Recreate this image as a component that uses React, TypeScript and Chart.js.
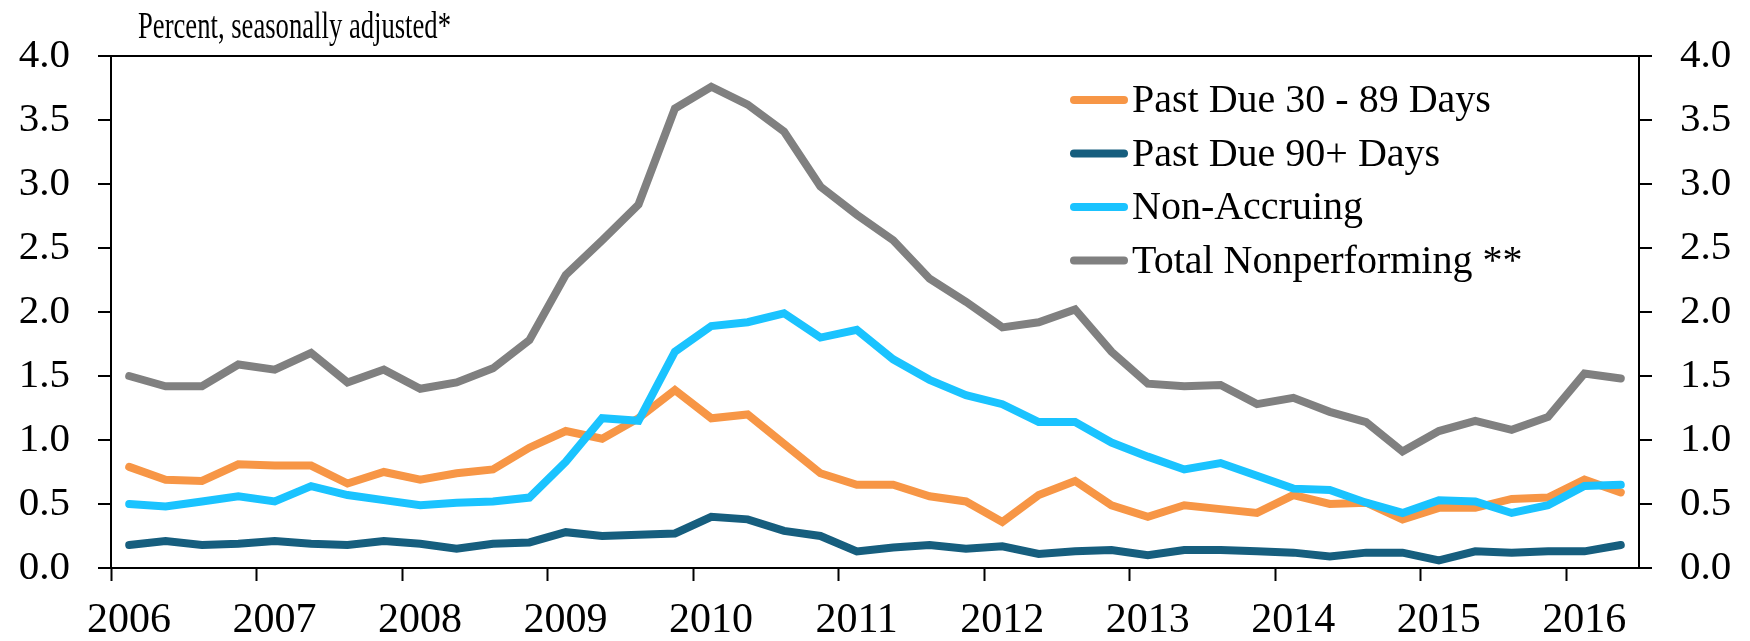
import React, { useEffect, useRef } from 'react';
import { Chart, registerables } from 'chart.js';

Chart.register(...registerables);

const quarters = [
  '2006Q1', '2006Q2', '2006Q3', '2006Q4',
  '2007Q1', '2007Q2', '2007Q3', '2007Q4',
  '2008Q1', '2008Q2', '2008Q3', '2008Q4',
  '2009Q1', '2009Q2', '2009Q3', '2009Q4',
  '2010Q1', '2010Q2', '2010Q3', '2010Q4',
  '2011Q1', '2011Q2', '2011Q3', '2011Q4',
  '2012Q1', '2012Q2', '2012Q3', '2012Q4',
  '2013Q1', '2013Q2', '2013Q3', '2013Q4',
  '2014Q1', '2014Q2', '2014Q3', '2014Q4',
  '2015Q1', '2015Q2', '2015Q3', '2015Q4',
  '2016Q1', '2016Q2',
];

const pastDue30to89 = [
  0.79, 0.69, 0.68, 0.81,
  0.80, 0.80, 0.66, 0.75,
  0.69, 0.74, 0.77, 0.94,
  1.07, 1.01, 1.17, 1.39,
  1.17, 1.20, 0.97, 0.74,
  0.65, 0.65, 0.56, 0.52,
  0.36, 0.57, 0.68, 0.49,
  0.40, 0.49, 0.46, 0.43,
  0.57, 0.50, 0.51, 0.38,
  0.47, 0.47, 0.54, 0.55,
  0.69, 0.59,
];

const pastDue90Plus = [
  0.18, 0.21, 0.18, 0.19,
  0.21, 0.19, 0.18, 0.21,
  0.19, 0.15, 0.19, 0.20,
  0.28, 0.25, 0.26, 0.27,
  0.40, 0.38, 0.29, 0.25,
  0.13, 0.16, 0.18, 0.15,
  0.17, 0.11, 0.13, 0.14,
  0.10, 0.14, 0.14, 0.13,
  0.12, 0.09, 0.12, 0.12,
  0.06, 0.13, 0.12, 0.13,
  0.13, 0.18,
];

const nonAccruing = [
  0.50, 0.48, 0.52, 0.56,
  0.52, 0.64, 0.57, 0.53,
  0.49, 0.51, 0.52, 0.55,
  0.83, 1.17, 1.15, 1.69,
  1.89, 1.92, 1.99, 1.80,
  1.86, 1.63, 1.47, 1.35,
  1.28, 1.14, 1.14, 0.98,
  0.87, 0.77, 0.82, 0.72,
  0.62, 0.61, 0.51, 0.43,
  0.53, 0.52, 0.43, 0.49,
  0.64, 0.65,
];

const totalNonperforming = [
  1.50, 1.42, 1.42, 1.59,
  1.55, 1.68, 1.45, 1.55,
  1.40, 1.45, 1.56, 1.78,
  2.29, 2.56, 2.84, 3.59,
  3.76, 3.62, 3.41, 2.98,
  2.76, 2.56, 2.26, 2.08,
  1.88, 1.92, 2.02, 1.69,
  1.44, 1.42, 1.43, 1.28,
  1.33, 1.22, 1.14, 0.91,
  1.07, 1.15, 1.08, 1.18,
  1.52, 1.48,
];

const yearTicks = [2006, 2007, 2008, 2009, 2010, 2011, 2012, 2013, 2014, 2015, 2016];
const yTicks = [0, 0.5, 1, 1.5, 2, 2.5, 3, 3.5, 4];

const seriesNames = ['Past Due 30 - 89 Days', 'Past Due 90+ Days', 'Non-Accruing', 'Total Nonperforming **'];
const seriesColors = ['#F79646', '#165E7E', '#1AC3FF', '#808080'];
const axisTitle = 'Percent, seasonally adjusted*';

const FONT = '"Liberation Serif", "Times New Roman", serif';

// mid-quarter position on a decimal-year axis
const quarterToX = (q: string) => {
  const yr = parseInt(q.slice(0, 4), 10);
  const n = parseInt(q.slice(5), 10);
  return yr + (n - 1) * 0.25 + 0.125;
};

const toPoints = (vals: number[]) => vals.map((v, i) => ({ x: quarterToX(quarters[i]), y: v }));

const overlayPlugin = {
  id: 'overlay',
  afterDraw(chart: any) {
    const ctx = chart.ctx as CanvasRenderingContext2D;
    ctx.save();
    ctx.fillStyle = '#000';
    ctx.textAlign = 'left';
    ctx.textBaseline = 'alphabetic';
    // axis unit title (narrowed to mimic the condensed Garamond face)
    ctx.font = `37px ${FONT}`;
    const natural = ctx.measureText(axisTitle).width;
    const targetWidth = 313;
    const sx = natural > 0 ? targetWidth / natural : 1;
    ctx.save();
    ctx.translate(138, 38);
    ctx.scale(sx, 1);
    ctx.fillText(axisTitle, 0, 0);
    ctx.restore();
    // legend
    chart.data.datasets.forEach((ds: any, i: number) => {
      const y = 100 + i * 53.5;
      ctx.strokeStyle = ds.borderColor;
      ctx.lineWidth = 8;
      ctx.lineCap = 'round';
      ctx.beginPath();
      ctx.moveTo(1074, y);
      ctx.lineTo(1124, y);
      ctx.stroke();
      ctx.fillStyle = '#000';
      ctx.font = `40px ${FONT}`;
      ctx.fillText(ds.label, 1132, y + 12);
    });
    ctx.restore();
  },
};

export default function App() {
  const canvasRef = useRef<HTMLCanvasElement | null>(null);

  useEffect(() => {
    if (!canvasRef.current) return;
    const series = [pastDue30to89, pastDue90Plus, nonAccruing, totalNonperforming];
    const drawOrder = [4, 3, 2, 1];
    const yAxisCommon = (position: 'left' | 'right') => ({
      type: 'linear' as const,
      position,
      min: 0,
      max: 4,
      afterBuildTicks: (scale: any) => {
        scale.ticks = yTicks.map((v) => ({ value: v }));
      },
      afterFit: (scale: any) => {
        scale.width = 111;
      },
      border: { display: true, color: '#000', width: 2 },
      grid: {
        display: true,
        drawOnChartArea: position === 'left',
        drawTicks: true,
        tickLength: 13,
        tickColor: '#000',
        tickWidth: 2,
        lineWidth: 2,
        color: (c: any) => (c.tick && c.tick.value === 4 ? '#000' : 'rgba(0,0,0,0)'),
      },
      ticks: {
        padding: 28,
        color: '#000',
        font: { family: FONT, size: 41 },
        callback: (v: any) => Number(v).toFixed(1),
      },
    });

    const chart = new Chart(canvasRef.current, {
      type: 'line',
      data: {
        datasets: series.map((vals, i) => ({
          label: seriesNames[i],
          data: toPoints(vals),
          borderColor: seriesColors[i],
          backgroundColor: seriesColors[i],
          borderWidth: 8,
          pointRadius: 0,
          pointHoverRadius: 0,
          tension: 0,
          fill: false,
          borderCapStyle: 'round' as const,
          borderJoinStyle: 'miter' as const,
          order: drawOrder[i],
        })),
      },
      options: {
        animation: false,
        responsive: false,
        devicePixelRatio: 1,
        layout: { padding: { top: 56, left: 0, right: 0, bottom: 0 } },
        plugins: {
          legend: { display: false },
          tooltip: { enabled: false },
          title: { display: false },
        },
        scales: {
          x: {
            type: 'linear',
            position: 'bottom',
            min: 2006,
            max: 2016.5,
            afterBuildTicks: (scale: any) => {
              scale.ticks = yearTicks.map((v) => ({ value: v }));
            },
            afterFit: (scale: any) => {
              scale.height = 73;
            },
            border: { display: true, color: '#000', width: 2 },
            grid: {
              display: true,
              drawOnChartArea: false,
              drawTicks: true,
              tickLength: 13,
              tickColor: '#000',
              tickWidth: 2,
            },
            ticks: {
              autoSkip: false,
              maxRotation: 0,
              minRotation: 0,
              padding: 15,
              labelOffset: 18,
              color: '#000',
              font: { family: FONT, size: 42 },
              callback: (v: any) => String(v),
            },
          },
          y: yAxisCommon('left'),
          yRight: yAxisCommon('right'),
        },
      },
      plugins: [overlayPlugin],
    } as any);

    return () => {
      chart.destroy();
    };
  }, []);

  return (
    <div style={{ position: 'absolute', left: 0, top: 0, width: 1750, height: 641, background: '#fff' }}>
      <canvas ref={canvasRef} width={1750} height={641} style={{ display: 'block', width: 1750, height: 641 }} />
    </div>
  );
}
